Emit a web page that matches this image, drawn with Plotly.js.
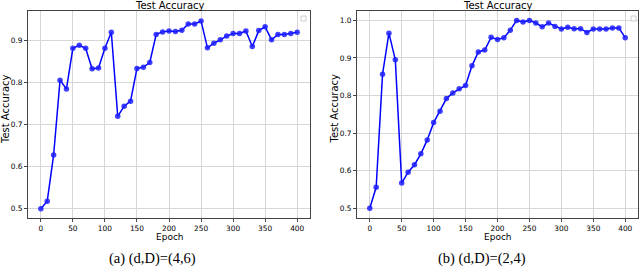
<!DOCTYPE html>
<html>
<head>
<meta charset="utf-8">
<script src="https://cdn.plot.ly/plotly-3.0.1.min.js"></script>
<style>
html,body{margin:0;padding:0;background:#fff;}
#chart{width:640px;height:268px;}
</style>
</head>
<body>
<div id="chart"></div>
<script>
// ---- data ----
const epochs = [0,10,20,30,40,50,60,70,80,90,100,110,120,130,140,150,160,170,180,190,200,210,220,230,240,250,260,270,280,290,300,310,320,330,340,350,360,370,380,390,400];
const accA = [0.500,0.518,0.628,0.806,0.785,0.882,0.889,0.882,0.833,0.835,0.882,0.920,0.720,0.744,0.756,0.834,0.837,0.848,0.915,0.921,0.923,0.922,0.925,0.940,0.940,0.947,0.883,0.894,0.902,0.911,0.917,0.917,0.923,0.886,0.924,0.933,0.902,0.915,0.915,0.917,0.920];
const accB = [0.500,0.556,0.857,0.966,0.895,0.567,0.596,0.616,0.645,0.682,0.728,0.758,0.792,0.807,0.818,0.827,0.879,0.916,0.921,0.955,0.949,0.954,0.974,1.000,0.996,1.000,0.993,0.983,0.993,0.984,0.977,0.982,0.978,0.978,0.968,0.977,0.977,0.977,0.980,0.980,0.954];
const xTicks = [0,50,100,150,200,250,300,350,400];
const yTicksA = [0.5,0.6,0.7,0.8,0.9];
const yTicksB = [0.5,0.6,0.7,0.8,0.9,1.0];
const plotTitle = "Test Accuracy";
const xLabel = "Epoch";
const yLabel = "Test Accuracy";
const captions = ["(a) (d,D)=(4,6)", "(b) (d,D)=(2,4)"];

// ---- layout helpers ----
const W = 640, H = 268;
const px = x => x / W;
const py = y => 1 - y / H;

const lineStyle = {color: '#0000ff', width: 1.5};
const markerStyle = {color: 'rgba(30,30,255,0.85)', size: 5.5, line: {width: 0}};

const traces = [
  {x: epochs, y: accA, xaxis: 'x', yaxis: 'y', type: 'scatter', mode: 'lines+markers', line: lineStyle, marker: markerStyle, showlegend: false},
  {x: epochs, y: accB, xaxis: 'x2', yaxis: 'y2', type: 'scatter', mode: 'lines+markers', line: lineStyle, marker: markerStyle, showlegend: false}
];

const tickFont = {family: 'DejaVu Sans', size: 7.4, color: '#000'};
function axisCommon(extra) {
  return Object.assign({
    showline: true, mirror: true, linecolor: '#444', linewidth: 1,
    showgrid: true, gridcolor: '#d6d6d6', gridwidth: 1,
    zeroline: false, ticks: 'outside', ticklen: 3, tickwidth: 1, tickcolor: '#444',
    tickfont: tickFont, fixedrange: true
  }, extra);
}

const yTop = 11, yBot = 217.7;
const layout = {
  width: W, height: H,
  margin: {l: 0, r: 0, t: 0, b: 0},
  paper_bgcolor: '#fff', plot_bgcolor: '#fff',
  showlegend: false,
  xaxis: axisCommon({domain: [px(28), px(310)], range: [-20, 420], tickvals: xTicks, anchor: 'y'}),
  yaxis: axisCommon({domain: [py(yBot), py(yTop)], range: [0.4786, 0.9707], tickvals: yTicksA, tickformat: '.1f', anchor: 'x'}),
  xaxis2: axisCommon({domain: [px(357), px(638)], range: [-20, 420], tickvals: xTicks, anchor: 'y2'}),
  yaxis2: axisCommon({domain: [py(yBot), py(yTop)], range: [0.475, 1.025], tickvals: yTicksB, tickformat: '.1f', anchor: 'x2'}),
  annotations: [],
  shapes: [
    // empty legend boxes (matplotlib legend with no entries)
    {type: 'rect', xref: 'paper', yref: 'paper', x0: px(301), x1: px(306), y0: py(21), y1: py(16), line: {color: '#cccccc', width: 1}, fillcolor: '#fff'},
    {type: 'rect', xref: 'paper', yref: 'paper', x0: px(631), x1: px(636), y0: py(21), y1: py(16), line: {color: '#cccccc', width: 1}, fillcolor: '#fff'}
  ]
};

function addText(text, x, y, font, extra) {
  layout.annotations.push(Object.assign({
    text: text, xref: 'paper', yref: 'paper', x: px(x), y: py(y),
    xanchor: 'center', yanchor: 'middle', showarrow: false, font: font
  }, extra || {}));
}
const titleFont = {family: 'DejaVu Sans', size: 10, color: '#000'};
const xLabelFont = {family: 'DejaVu Sans', size: 9, color: '#000'};
const yLabelFont = {family: 'DejaVu Sans', size: 10, color: '#000'};
const capFont = {family: 'Liberation Serif', size: 14.5, color: '#000'};

addText(plotTitle, 169.5, 5.5, titleFont);
addText(plotTitle, 497.5, 5.5, titleFont);
addText(xLabel, 169.5, 236.5, xLabelFont);
addText(xLabel, 498, 236.5, xLabelFont);
addText(yLabel, 5, 109, yLabelFont, {textangle: -90});
addText(yLabel, 333.5, 109, yLabelFont, {textangle: -90});
addText(captions[0], 152, 258.5, capFont);
addText(captions[1], 482, 258.5, capFont);

Plotly.newPlot('chart', traces, layout, {displayModeBar: false, staticPlot: true});
</script>
</body>
</html>
